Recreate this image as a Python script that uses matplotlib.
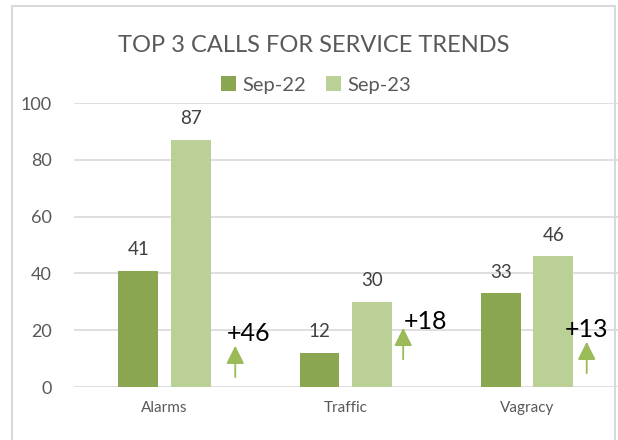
import matplotlib.pyplot as plt
from matplotlib.patches import Rectangle
import numpy as np

plt.rcParams['font.family'] = ['Lato', 'DejaVu Sans']

categories = ['Alarms', 'Traffic', 'Vagracy']
sep22 = [41, 12, 33]
sep23 = [87, 30, 46]
series_names = ['Sep-22', 'Sep-23']

dark = '#8BA650'
light = '#BBD097'
grey_txt = '#595959'

fig = plt.figure(figsize=(6.18, 4.40), dpi=100)
fig.patches.append(Rectangle((12 / 618, -0.1), 603 / 618, 1 - 6 / 440 + 0.1,
                             transform=fig.transFigure, fill=False,
                             edgecolor='#D9D9D9', linewidth=1.5, zorder=10))

ax = fig.add_axes([74 / 618, 1 - 387 / 440, 543.5 / 618, 284 / 440])
x = np.arange(len(categories))
off = 0.145
w = 0.22
b1 = ax.bar(x - off, sep22, w, color=dark, label=series_names[0], zorder=3)
b2 = ax.bar(x + off, sep23, w, color=light, label=series_names[1], zorder=3)

for bars in (b1, b2):
    for r in bars:
        ax.text(r.get_x() + r.get_width() / 2, r.get_height() + 4.5,
                str(int(r.get_height())), ha='center', va='bottom',
                fontsize=13.5, color='#404040')

# change arrows and labels
arrow_x = [0.39, 1.317, 2.33]
arrow_y0 = [2.5, 8.8, 3.9]
text_x = [0.345, 1.32, 2.21]
text_y = [19.0, 23.0, 20.4]
for i in range(len(categories)):
    d = sep23[i] - sep22[i]
    ax.annotate('', xy=(arrow_x[i], arrow_y0[i] + 13), xytext=(arrow_x[i], arrow_y0[i]),
                arrowprops=dict(arrowstyle='-|>,head_width=0.55,head_length=1.1',
                                color='#9BBB59', lw=1.3), zorder=4)
    ax.text(text_x[i], text_y[i], '+%d' % d, ha='left', va='center',
            fontsize=18, color='black', zorder=5)

ax.set_xlim(-0.5, 2.5)
ax.set_ylim(0, 100)
ax.set_yticks(range(0, 101, 20))
ax.set_xticks(x)
ax.set_xticklabels(categories)
ax.tick_params(axis='y', length=0, labelsize=13, labelcolor=grey_txt, pad=16)
ax.tick_params(axis='x', length=0, labelsize=11, labelcolor=grey_txt, pad=10)
ax.grid(axis='y', color='#D9D9D9', linewidth=1.2, zorder=0)
for s in ax.spines.values():
    s.set_visible(False)

fig.text(0.5 * (118 + 510) / 618, 1 - 45 / 440, 'TOP 3 CALLS FOR SERVICE TRENDS',
         ha='center', va='center', fontsize=17, color=grey_txt)
fig.legend(loc='center', bbox_to_anchor=(316 / 618, 1 - 85 / 440), ncol=2,
           frameon=False, fontsize=14.5, labelcolor=grey_txt,
           handlelength=0.75, handleheight=0.75, handletextpad=0.3, columnspacing=1.0)

fig.savefig('out.png', dpi=100)
